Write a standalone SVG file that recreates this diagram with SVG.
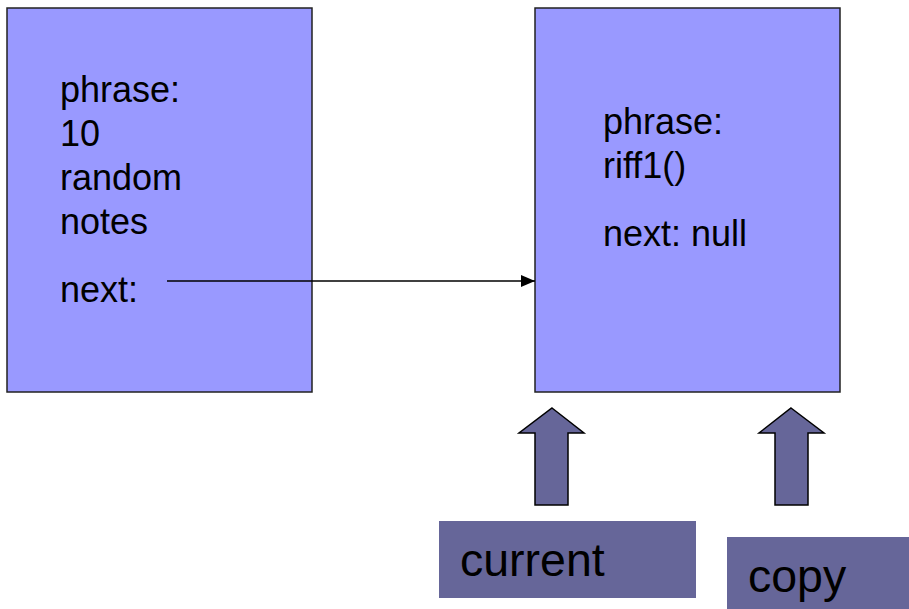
<svg xmlns="http://www.w3.org/2000/svg" width="909" height="609" viewBox="0 0 909 609">
  <style>
    .node { fill: #9999ff; stroke: #222; stroke-width: 1.5; }
    .ptr { fill: #666699; stroke: #000; stroke-width: 1.5; stroke-linejoin: miter; }
    .tag { fill: #666699; }
    .t { font-family: "Liberation Sans", Arial, sans-serif; fill: #000; }
    .body { font-size: 36px; }
    .big { font-size: 46.5px; }
    .link { stroke: #000; stroke-width: 1.5; fill: none; }
  </style>
  <defs>
    <marker id="head" markerWidth="14" markerHeight="12" refX="14" refY="6" orient="auto" markerUnits="userSpaceOnUse">
      <path d="M0,0 L14,6 L0,12 z" fill="#000"/>
    </marker>
  </defs>
  <rect width="909" height="609" fill="#fff"/>

  <g id="node-first">
    <rect class="node" x="7" y="8" width="305" height="384"/>
    <text class="t body" x="60" y="102">phrase:</text>
    <text class="t body" x="60" y="146">10</text>
    <text class="t body" x="60" y="190">random</text>
    <text class="t body" x="60" y="234">notes</text>
    <text class="t body" x="60" y="302">next:</text>
  </g>

  <g id="node-second">
    <rect class="node" x="535" y="8" width="305" height="384"/>
    <text class="t body" x="603" y="134">phrase:</text>
    <text class="t body" x="603" y="178">riff1()</text>
    <text class="t body" x="603" y="246">next: null</text>
  </g>

  <g id="connectors">
    <line class="link" x1="167" y1="281" x2="535" y2="281" marker-end="url(#head)"/>
  </g>

  <g id="pointer-current">
    <polygon class="ptr" points="552,408 584,433 568,433 568,505 535,505 535,433 519,433"/>
    <rect class="tag" x="439" y="521" width="257" height="77"/>
    <text class="t big" x="460" y="576">current</text>
  </g>

  <g id="pointer-copy">
    <polygon class="ptr" points="791,408 824,433 808,433 808,505 775,505 775,433 759,433"/>
    <rect class="tag" x="727" y="537" width="182" height="72"/>
    <text class="t big" x="748" y="592">copy</text>
  </g>
</svg>
